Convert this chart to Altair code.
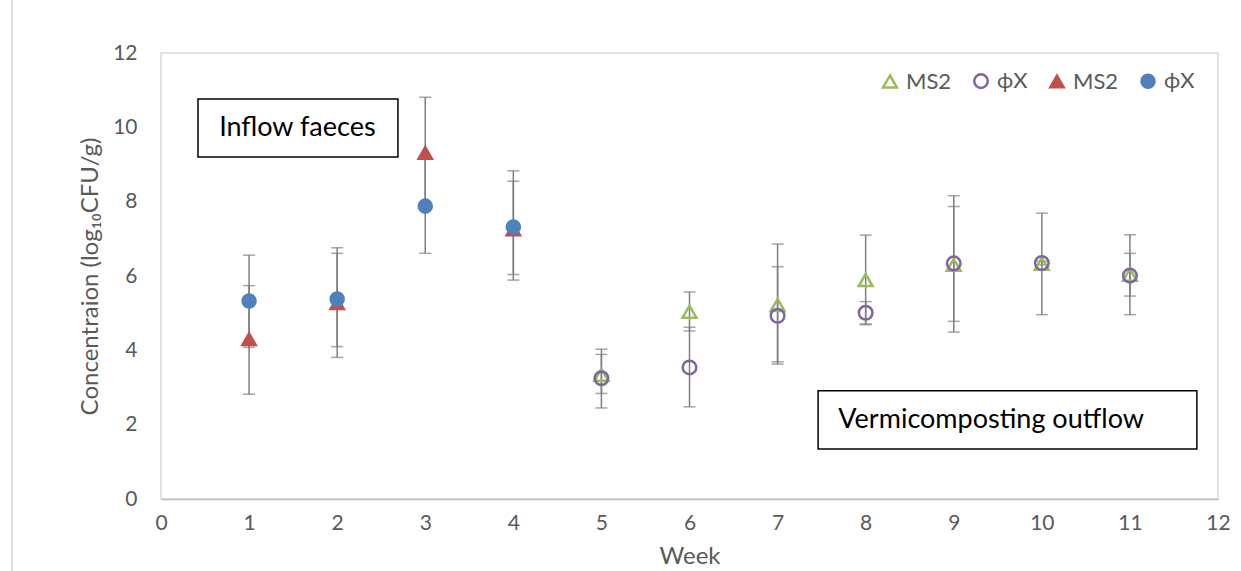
import altair as alt
import pandas as pd

# ---- data ----
weeks_in = [1, 2, 3, 4]
ms2_in = [4.30, 5.27, 9.31, 7.25]
ms2_in_lo = [2.82, 3.81, 7.81, 6.04]
ms2_in_hi = [5.74, 6.76, 10.81, 8.55]
phix_in = [5.33, 5.38, 7.88, 7.32]
phix_in_lo = [4.08, 4.10, 6.61, 5.89]
phix_in_hi = [6.56, 6.61, 9.15, 8.83]

weeks_out = [5, 6, 7, 8, 9, 10, 11]
ms2_out = [3.34, 5.04, 5.22, 5.89, 6.30, 6.33, 6.03]
ms2_out_lo = [2.84, 4.52, 3.63, 4.69, 4.49, 4.96, 4.96]
ms2_out_hi = [3.89, 5.57, 6.86, 7.10, 8.16, 7.69, 7.11]
phix_out = [3.25, 3.54, 4.93, 5.01, 6.34, 6.35, 6.01]
phix_out_lo = [2.45, 2.48, 3.69, 4.71, 4.78, 6.30, 5.46]
phix_out_hi = [4.03, 4.62, 6.25, 5.31, 7.87, 6.40, 6.61]

series_names = ["MS2 out", "ϕX out", "MS2 in", "ϕX in"]
series_shapes = ["triangle-up", "circle", "triangle-up", "circle"]
series_stroke = ["#9BBB59", "#8064A2", "#C0504D", "#4F81BD"]
series_fill = ["transparent", "transparent", "#C0504D", "#4F81BD"]
series_size = [190, 170, 250, 260]

box_x = [0.42, 7.46]
box_x2 = [2.69, 11.76]
box_y = [10.76, 2.91]
box_y2 = [9.20, 1.345]
box_text = ["Inflow faeces", "Vermicomposting outflow"]
text_x = [0.66, 7.69]
text_y = [9.98, 2.13]

x_ticks = list(range(0, 13))
y_ticks = [0, 2, 4, 6, 8, 10, 12]

FONT = "Lato"
GREY = "#595959"

rows = []
def add(name, weeks, vals, lo, hi):
    for w, v, l, h in zip(weeks, vals, lo, hi):
        rows.append({"series": name, "week": w, "value": v, "lo": l, "hi": h})

add("MS2 out", weeks_out, ms2_out, ms2_out_lo, ms2_out_hi)
add("ϕX out", weeks_out, phix_out, phix_out_lo, phix_out_hi)
add("MS2 in", weeks_in, ms2_in, ms2_in_lo, ms2_in_hi)
add("ϕX in", weeks_in, phix_in, phix_in_lo, phix_in_hi)
df = pd.DataFrame(rows)
df["order"] = df["series"].map({n: i for i, n in enumerate(series_names)})

boxes = pd.DataFrame({"x": box_x, "x2": box_x2, "y": box_y, "y2": box_y2,
                      "label": box_text, "tx": text_x, "ty": text_y})

xscale = alt.Scale(domain=[0, 12], nice=False, zero=False)
yscale = alt.Scale(domain=[0, 12], nice=False, zero=False)

xaxis = alt.Axis(values=x_ticks, format="d", grid=False, ticks=False, domainColor="#bfbfbf",
                 domainWidth=1.5, labelFontSize=21, labelColor=GREY, labelFont=FONT,
                 labelPadding=13, labelFlush=False, labelOverlap=False,
                 title="Week", titleFontSize=24, titleColor=GREY,
                 titleFont=FONT, titleFontWeight="normal", titlePadding=11)
yaxis = alt.Axis(values=y_ticks, format="d", grid=False, ticks=False, domain=False,
                 labelFontSize=21, labelColor=GREY, labelFont=FONT, labelPadding=24,
                 labelFlush=False, labelOverlap=False,
                 title="Concentraion (log₁₀CFU/g)", titleFontSize=24, titleColor=GREY,
                 titleFont=FONT, titleFontWeight="normal", titlePadding=10)

base = alt.Chart(df)

rules = base.mark_rule(color="#7f7f7f", strokeWidth=1.5).encode(
    x=alt.X("week:Q", scale=xscale, axis=xaxis),
    y=alt.Y("lo:Q", scale=yscale, axis=yaxis),
    y2="hi:Q",
)
caps_lo = base.mark_tick(orient="horizontal", size=12, thickness=1.5, color="#7f7f7f").encode(
    x="week:Q", y="lo:Q")
caps_hi = base.mark_tick(orient="horizontal", size=12, thickness=1.5, color="#7f7f7f").encode(
    x="week:Q", y="hi:Q")

legend = alt.Legend(title=None, orient="none", legendX=718, legendY=17,
                    direction="horizontal", labelFontSize=22, labelColor=GREY,
                    labelFont=FONT, symbolStrokeWidth=2.5, columnPadding=17,
                    labelOffset=5, padding=0,
                    labelExpr="split(datum.label, ' ')[0]")

points = base.mark_point(strokeWidth=2.5, opacity=1).encode(
    x="week:Q",
    y="value:Q",
    shape=alt.Shape("series:N", scale=alt.Scale(domain=series_names, range=series_shapes), legend=legend),
    stroke=alt.Stroke("series:N", scale=alt.Scale(domain=series_names, range=series_stroke), legend=legend),
    fill=alt.Fill("series:N", scale=alt.Scale(domain=series_names, range=series_fill), legend=legend),
    size=alt.Size("series:N", scale=alt.Scale(domain=series_names, range=series_size), legend=legend),
    order="order:Q",
)

box_rects = alt.Chart(boxes).mark_rect(fill="white", stroke="black", strokeWidth=1.5).encode(
    x="x:Q", x2="x2", y="y:Q", y2="y2")
box_labels = alt.Chart(boxes).mark_text(align="left", baseline="middle", fontSize=27,
                                        font=FONT, color="black").encode(
    x="tx:Q", y="ty:Q", text="label:N")

border = alt.Chart(pd.DataFrame({"a": [0]})).mark_rule(color="#d9d9d9", strokeWidth=1.5).encode(
    x=alt.value(-149), y=alt.value(-53), y2=alt.value(518))

chart = alt.layer(border, box_rects, box_labels, rules, caps_lo, caps_hi, points).properties(
    width=1057, height=446,
    autosize=alt.AutoSizeParams(type="none"),
    padding={"left": 161, "top": 53, "right": 23, "bottom": 72},
    background="white",
).configure_view(stroke="#d9d9d9", strokeWidth=1.5)

chart.save("out.html", embed_options={"renderer": "svg", "actions": False})
